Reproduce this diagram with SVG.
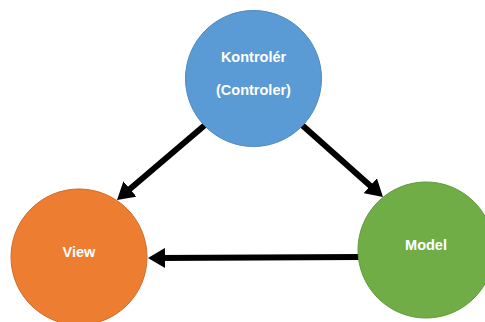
<svg xmlns="http://www.w3.org/2000/svg" width="485" height="322" viewBox="0 0 485 322">
<style>
.lbl{font-family:"Liberation Sans",Arial,sans-serif;font-weight:bold;font-size:14.5px;fill:#fff;text-anchor:middle}
.conn{stroke:#000;stroke-width:6;fill:none;marker-end:url(#ah)}
</style>
<defs>
<marker id="ah" markerUnits="userSpaceOnUse" markerWidth="17" markerHeight="20" refX="7" refY="10" orient="auto">
<path d="M0,0 L17,10 L0,20 z" fill="#000"/>
</marker>
</defs>
<rect width="485" height="322" fill="#fff"/>
<g id="connectors">
<line class="conn" x1="205" y1="125" x2="124.6" y2="193.5"/>
<line class="conn" x1="302" y1="125" x2="375.5" y2="190.4"/>
<line class="conn" x1="360" y1="257" x2="158" y2="258"/>
</g>
<g id="controller">
<circle cx="253.5" cy="78.5" r="68" fill="#5B9BD5" stroke="#4F89BE" stroke-width="1"/>
<text class="lbl" x="253.5" y="62">Kontrolér</text>
<text class="lbl" x="253.5" y="95">(Controler)</text>
</g>
<g id="view">
<circle cx="79" cy="257" r="68" fill="#ED7D31" stroke="#D06C28" stroke-width="1"/>
<text class="lbl" x="79" y="257">View</text>
</g>
<g id="model">
<circle cx="426" cy="250" r="68" fill="#70AD47" stroke="#5E9A3A" stroke-width="1"/>
<text class="lbl" x="426" y="250">Model</text>
</g>
</svg>
